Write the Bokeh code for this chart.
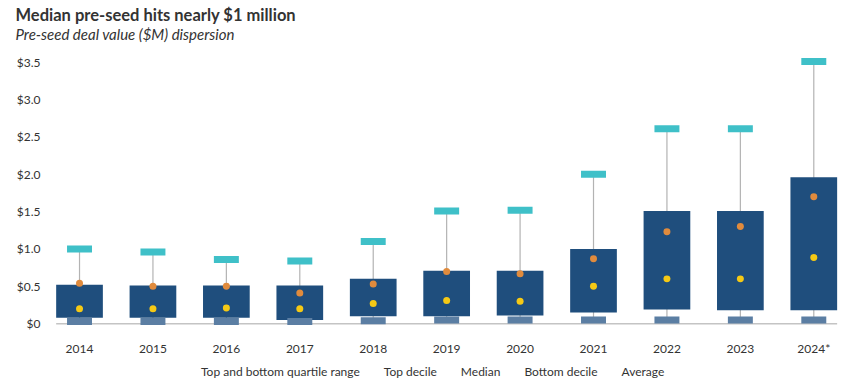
from bokeh.plotting import figure
from bokeh.models import Legend, LegendItem, Range1d, ColumnDataSource, Label
from bokeh.core.properties import value
from bokeh.embed import file_html
from bokeh.resources import INLINE

# ---- data ----
years = ["2014", "2015", "2016", "2017", "2018", "2019", "2020", "2021", "2022", "2023", "2024*"]
top_decile = [1.00, 0.96, 0.86, 0.84, 1.10, 1.51, 1.52, 2.00, 2.61, 2.61, 3.51]
upper_quartile = [0.52, 0.51, 0.51, 0.51, 0.60, 0.71, 0.71, 1.00, 1.51, 1.51, 1.96]
lower_quartile = [0.08, 0.08, 0.08, 0.05, 0.10, 0.10, 0.11, 0.15, 0.19, 0.18, 0.18]
median = [0.20, 0.20, 0.21, 0.20, 0.27, 0.31, 0.30, 0.50, 0.60, 0.60, 0.885]
average = [0.54, 0.50, 0.50, 0.41, 0.53, 0.70, 0.67, 0.87, 1.23, 1.30, 1.70]
bottom_decile = [0.03, 0.03, 0.03, 0.03, 0.04, 0.05, 0.05, 0.05, 0.05, 0.05, 0.05]
y_ticks = [0, 0.5, 1.0, 1.5, 2.0, 2.5, 3.0, 3.5]
y_tick_labels = ["$0", "$0.5", "$1.0", "$1.5", "$2.0", "$2.5", "$3.0", "$3.5"]

# ---- style ----
NAVY = "#1f4e7d"
TEAL = "#3fc0c8"
YELLOW = "#f5c915"
ORANGE = "#e08b3d"
SLATE = "#5b7ea3"
GRAY = "#b3b3b3"
TXT = "#333333"
FONT = "Lato"

# layout parameters (pixels -> data units)
PX_X = 73.43      # px per category step
PX_Y = 74.9       # px per $1M
X_START, X_END = -1.008, 10.568
Y_START, Y_END = -0.841, 3.979
TICK_LABEL_X = -0.531
YEAR_LABEL_Y = -0.334
SUBTITLE_Y = 3.872
MARK_H = 3.5 / PX_Y          # half height of decile markers
WHISKER_W = 1.2 / PX_X
BASE_H = 0.75 / PX_Y
DOT_R = 3.5 / PX_X

xs = list(range(len(years)))
src = ColumnDataSource(dict(
    x=xs, top=top_decile, q3=upper_quartile, q1=lower_quartile, med=median, avg=average,
    bot=bottom_decile,
    top_hi=[v + MARK_H for v in top_decile], top_lo=[v - MARK_H for v in top_decile],
    bot_hi=[v + MARK_H for v in bottom_decile], bot_lo=[v - MARK_H for v in bottom_decile],
))

p = figure(width=860, height=391, title="Median pre-seed hits nearly $1 million",
           x_range=Range1d(X_START, X_END), y_range=Range1d(Y_START, Y_END),
           x_axis_location=None, y_axis_location=None,
           output_backend="svg", toolbar_location=None)
p.outline_line_color = None
p.grid.visible = False
p.title.text_font = FONT
p.title.text_font_size = "16.5px"
p.title.text_font_style = "bold"
p.title.text_color = TXT
p.title.offset = 10
p.title.standoff = 4

# baseline at $0
p.vbar(x=[(xs[0] + xs[-1]) / 2], width=[xs[-1] - xs[0] + 0.636], top=[BASE_H], bottom=[-BASE_H],
       fill_color="#c4c4c4", line_color=None)
# whiskers
p.vbar(x="x", top="top", bottom="bot", width=WHISKER_W, source=src, fill_color=GRAY, line_color=None)
# quartile boxes
p.vbar(x="x", top="q3", bottom="q1", width=0.636, source=src, fill_color=NAVY, line_color=None)
# decile markers
p.vbar(x="x", top="top_hi", bottom="top_lo", width=0.34, source=src, fill_color=TEAL, line_color=None)
p.vbar(x="x", top="bot_hi", bottom="bot_lo", width=0.34, source=src, fill_color=SLATE, line_color=None)
# median / average dots
p.circle(x="x", y="med", radius=DOT_R, source=src, fill_color=YELLOW, line_color=None)
p.circle(x="x", y="avg", radius=DOT_R, source=src, fill_color=ORANGE, line_color=None)

# tick labels
p.text(x=[TICK_LABEL_X] * len(y_ticks), y=y_ticks, text=y_tick_labels, text_align="right",
       text_baseline="middle", text_font=value(FONT), text_font_size="12px", text_color=TXT)
p.text(x=xs, y=[YEAR_LABEL_Y] * len(xs), text=years, text_align="center",
       text_baseline="middle", text_font=value(FONT), text_font_size="12px", text_color=TXT)

# subtitle
p.add_layout(Label(x=X_START, y=SUBTITLE_Y, x_offset=10, text="Pre-seed deal value ($M) dispersion",
                   text_font=FONT, text_font_style="italic", text_font_size="15px",
                   text_color=TXT, text_baseline="middle"))

# legend proxies (no data; only their legend glyphs show)
lg_box = p.vbar(x=[], top=[], bottom=[], width=0.5, fill_color=NAVY, line_color=None)
lg_top = p.line(x=[], y=[], line_color=TEAL, line_width=2.5)
lg_med = p.circle(x=[], y=[], radius=DOT_R, fill_color=YELLOW, line_color=None)
lg_bot = p.line(x=[], y=[], line_color=SLATE, line_width=2.5)
lg_avg = p.circle(x=[], y=[], radius=DOT_R, fill_color=ORANGE, line_color=None)

legend = Legend(items=[
    LegendItem(label="Top and bottom quartile range", renderers=[lg_box]),
    LegendItem(label="Top decile", renderers=[lg_top]),
    LegendItem(label="Median", renderers=[lg_med]),
    LegendItem(label="Bottom decile", renderers=[lg_bot]),
    LegendItem(label="Average", renderers=[lg_avg]),
], orientation="horizontal", location=(184, 7), glyph_width=9, glyph_height=9,
    label_height=14, label_standoff=3, spacing=12, padding=0, margin=0,
    border_line_alpha=0, background_fill_alpha=0, label_text_font_size="12px",
    label_text_color=TXT, label_text_font=FONT)
p.add_layout(legend)

open("out.html", "w").write(file_html(p, INLINE))
